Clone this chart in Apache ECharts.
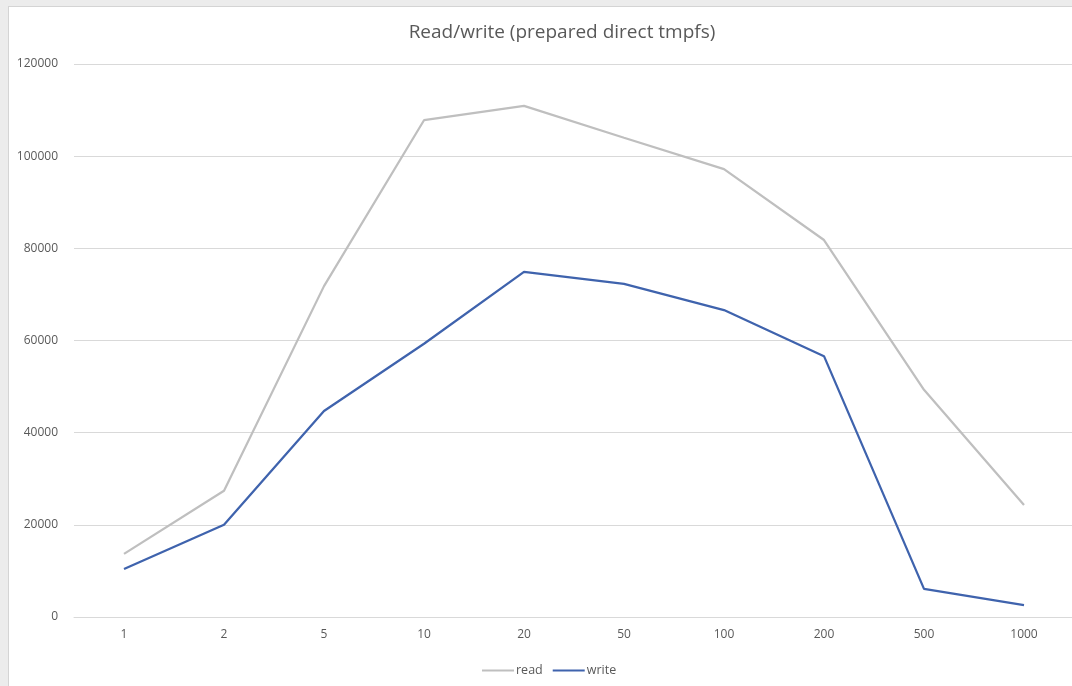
<!DOCTYPE html>
<html>
<head>
<meta charset="utf-8">
<script src="https://cdn.jsdelivr.net/npm/echarts@6/dist/echarts.min.js"></script>
<style>
  html, body { margin: 0; padding: 0; background: #ececec; }
  body { width: 1072px; height: 686px; position: relative; overflow: hidden; }
  #chart {
    position: absolute; left: 8px; top: 6px;
    width: 1070px; height: 686px;
    background: #fff;
    border-left: 1px solid #d4d4d4; border-top: 1px solid #d4d4d4;
  }
</style>
</head>
<body>
<div id="chart"></div>
<script>
const categories = ['1', '2', '5', '10', '20', '50', '100', '200', '500', '1000']
const readValues = [13700, 27400, 71800, 107800, 110900, 104000, 97200, 81800, 49300, 24300]
const writeValues = [10400, 20000, 44700, 59300, 74900, 72300, 66600, 56600, 6100, 2600]

const chart = echarts.init(document.getElementById('chart'))

const option = {
  animation: false,
  textStyle: { fontFamily: 'Open Sans, Liberation Sans, sans-serif' },
  title: {
    text: 'Read/write (prepared direct tmpfs)',
    left: 548,
    top: 11,
    textAlign: 'center',
    textStyle: { color: '#595959', fontSize: 19, fontWeight: 'normal' }
  },
  legend: {
    bottom: 11,
    left: 468,
    itemWidth: 32,
    itemHeight: 2,
    itemGap: 10,
    icon: 'rect',
    textStyle: { color: '#595959', fontSize: 12.5, padding: [0, 0, 0, -3] },
    data: ['read', 'write']
  },
  grid: {
    left: 65,
    top: 57,
    width: 1000,
    height: 553
  },
  xAxis: {
    type: 'category',
    data: categories,
    boundaryGap: true,
    axisLine: { lineStyle: { color: '#d9d9d9' } },
    axisTick: { show: false },
    axisLabel: { color: '#595959', fontSize: 12, margin: 12 }
  },
  yAxis: {
    type: 'value',
    min: 0,
    max: 120000,
    interval: 20000,
    axisLine: { show: false },
    axisTick: { show: false },
    axisLabel: { color: '#595959', fontSize: 12, margin: 16, formatter: v => String(v) },
    splitLine: { lineStyle: { color: '#d9d9d9', width: 1 } }
  },
  series: [
    {
      name: 'read',
      type: 'line',
      data: readValues,
      symbol: 'none',
      lineStyle: { color: '#bfbfbf', width: 2.25 },
      itemStyle: { color: '#bfbfbf' }
    },
    {
      name: 'write',
      type: 'line',
      data: writeValues,
      symbol: 'none',
      lineStyle: { color: '#3f63ad', width: 2.25 },
      itemStyle: { color: '#3f63ad' }
    }
  ]
}

chart.setOption(option)
</script>
</body>
</html>
